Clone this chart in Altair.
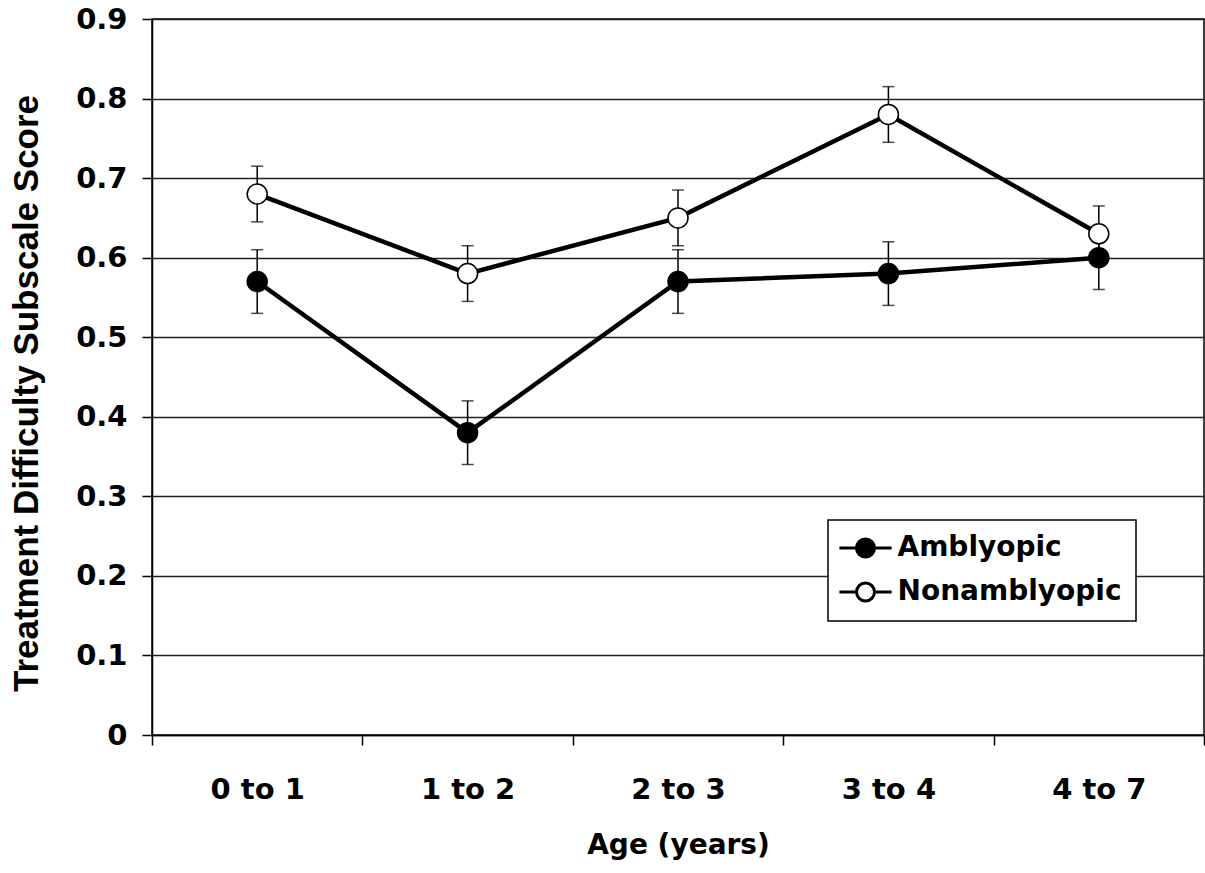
import altair as alt
import pandas as pd

ages = ["0 to 1", "1 to 2", "2 to 3", "3 to 4", "4 to 7"]
groups = ["Amblyopic", "Nonamblyopic"]
amb_mean = [0.57, 0.38, 0.57, 0.58, 0.60]
amb_err = [0.04, 0.04, 0.04, 0.04, 0.04]
non_mean = [0.68, 0.58, 0.65, 0.78, 0.63]
non_err = [0.035, 0.035, 0.035, 0.035, 0.035]
y_ticks = [0, 0.1, 0.2, 0.3, 0.4, 0.5, 0.6, 0.7, 0.8, 0.9]

rows = []
for g, means, errs in [(groups[0], amb_mean, amb_err), (groups[1], non_mean, non_err)]:
    for a, m, e in zip(ages, means, errs):
        rows.append({"age": a, "group": g, "mean": m, "lo": m - e, "hi": m + e})
df = pd.DataFrame(rows)

FONT = "DejaVu Sans"

x_enc = alt.X(
    "age:N",
    sort=ages,
    scale=alt.Scale(type="band", domain=ages, paddingInner=0, paddingOuter=0),
    axis=alt.Axis(
        title="Age (years)",
        titleFont=FONT, titleFontSize=28, titleFontWeight="bold", titleColor="black",
        titleX=526, titleY=118, titleBaseline="alphabetic", titleAlign="center",
        labelFont=FONT, labelFontSize=29, labelFontWeight="bold", labelColor="black",
        labelPadding=30, labelAngle=0,
        tickBand="extent", tickExtra=True, tickSize=10, tickColor="black", tickWidth=1.5,
        domainColor="black", domainWidth=1.5, grid=False,
    ),
)

y_scale = alt.Scale(domain=[0, 0.9], nice=False, zero=True)
y_axis = alt.Axis(
    title="Treatment Difficulty Subscale Score",
    titleFont="Liberation Sans", titleFontSize=35, titleFontWeight="bold", titleColor="black",
    titleX=-115, titleY=374, titleAngle=270, titleBaseline="alphabetic", titleAlign="center",
    values=y_ticks, format=".1~f",
    labelFont=FONT, labelFontSize=29, labelFontWeight="bold", labelColor="black",
    labelPadding=15,
    tickSize=10, tickColor="black", tickWidth=1.5,
    domainColor="black", domainWidth=1.5,
    grid=True, gridColor="#222222", gridWidth=1.5,
)

base = alt.Chart(df)

rules = base.mark_rule(color="black", strokeWidth=1.5).encode(
    x=x_enc,
    y=alt.Y("lo:Q", scale=y_scale, axis=y_axis),
    y2="hi:Q",
)
cap_lo = base.mark_tick(color="black", size=12, thickness=1.5).encode(
    x=x_enc, y=alt.Y("lo:Q", scale=y_scale)
)
cap_hi = base.mark_tick(color="black", size=12, thickness=1.5).encode(
    x=x_enc, y=alt.Y("hi:Q", scale=y_scale)
)
lines = base.mark_line(color="black", strokeWidth=4.5).encode(
    x=x_enc,
    y=alt.Y("mean:Q", scale=y_scale),
    detail="group:N",
)

legend_path = "M-2.9,0H-1M1,0H2.9M-1,0A1,1 0 1,0 1,0A1,1 0 1,0 -1,0Z"

points = base.mark_point(
    shape="circle", filled=True, stroke="black", strokeWidth=1.5, size=400, opacity=1
).encode(
    x=x_enc,
    y=alt.Y("mean:Q", scale=y_scale),
    fill=alt.Fill(
        "group:N",
        scale=alt.Scale(domain=groups, range=["black", "white"]),
        legend=alt.Legend(
            title=None,
            orient="none", legendX=676, legendY=501,
            symbolType=legend_path, symbolSize=324,
            symbolStrokeColor="black", symbolStrokeWidth=3,
            symbolOffset=9.5, labelOffset=18, labelLimit=0,
            labelFont=FONT, labelFontSize=28, labelFontWeight="bold", labelColor="black",
            padding=14, rowPadding=14,
            fillColor="white", strokeColor="black",
        ),
    ),
)

chart = (
    alt.layer(rules, cap_lo, cap_hi, lines, points)
    .properties(
        width=1052,
        height=716,
        autosize=alt.AutoSizeParams(type="none"),
        padding={"left": 152, "top": 19, "right": 1, "bottom": 138},
        background="white",
    )
    .configure_view(stroke="black", strokeWidth=1.5)
    .configure_legend(strokeWidth=1.5)
)

chart.save("out.html", embed_options={"renderer": "svg", "actions": False})
